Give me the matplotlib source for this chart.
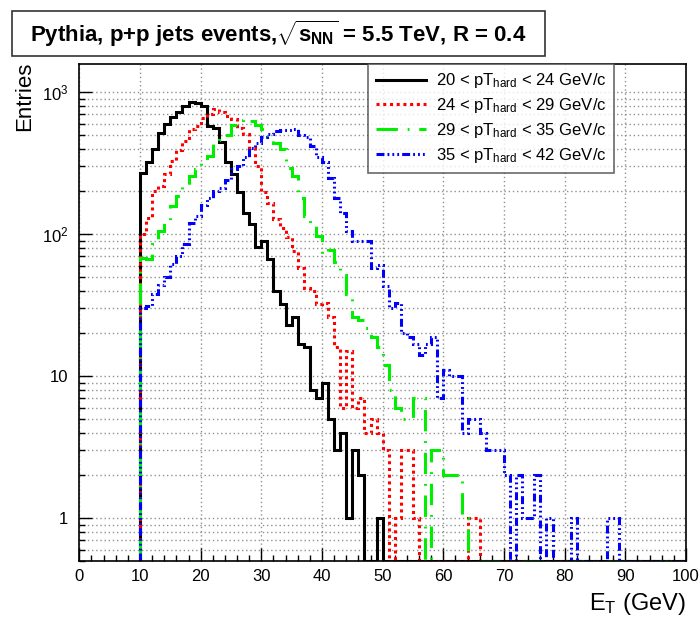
import numpy as np
import matplotlib
matplotlib.use("Agg")
import matplotlib.pyplot as plt
from matplotlib.lines import Line2D
from matplotlib.patches import Rectangle
from matplotlib.ticker import FixedLocator, FixedFormatter, MultipleLocator, LogLocator, NullFormatter

plt.rcParams['font.family'] = ['Liberation Sans', 'DejaVu Sans']
plt.rcParams['mathtext.fontset'] = 'custom'
plt.rcParams['mathtext.rm'] = 'Liberation Sans'
plt.rcParams['mathtext.it'] = 'Liberation Sans:italic'
plt.rcParams['mathtext.bf'] = 'Liberation Sans:bold'

# ---- data: entries per 1 GeV bin, E_T from 10 to 100 GeV ----
bin_edges = np.arange(10, 101, 1)

black_20_24 = [269, 320, 398, 512, 602, 665, 720, 801, 860, 835,
               805, 580, 564, 443, 320, 267, 197, 142, 118, 81,
               90, 67, 40, 32, 23, 26, 17, 16, 8, 7,
               9, 5, 3, 4, 1, 3, 2, 0, 0, 1] + [0] * 50

red_24_29 = [100, 131, 202, 219, 265, 328, 391, 454, 549, 580,
             662, 700, 760, 720, 681, 646, 564, 506, 407, 303,
             197, 167, 128, 111, 95, 76, 58, 42, 40, 32,
             33, 26, 16, 6, 15, 6, 7, 4, 5, 4,
             3, 0, 1, 3, 3, 1, 0, 0, 0, 0,
             0, 0, 0, 0, 1, 1] + [0] * 34

green_29_35 = [68, 67, 85, 105, 121, 157, 186, 220, 257, 290,
               320, 356, 430, 460, 500, 590, 640, 650, 630, 590,
               555, 480, 440, 400, 295, 257, 180, 134, 115, 97,
               72, 78, 64, 52, 38, 26, 25, 22, 19, 16,
               12, 8, 6, 5, 5, 7, 7, 0, 3, 3,
               2, 2, 2, 1] + [0] * 36

blue_35_42 = [30, 31, 38, 44, 50, 62, 70, 85, 120, 135,
              160, 180, 202, 210, 240, 287, 300, 347, 407, 440,
              480, 506, 534, 540, 545, 550, 500, 480, 420, 350,
              320, 250, 180, 140, 105, 90, 90, 90, 58, 61,
              43, 30, 33, 20, 19, 17, 14, 17, 19, 7,
              11, 10, 10, 4, 5, 5, 4, 3, 3, 3,
              2, 0, 2, 1, 1, 2, 0, 1, 0, 0,
              0, 1, 0, 0, 0, 0, 0, 1, 1, 0,
              0, 0, 0, 0, 0, 0, 0, 0, 0, 0]

labels = [r"20 < pT$_{\rm hard}$ < 24 GeV/c",
          r"24 < pT$_{\rm hard}$ < 29 GeV/c",
          r"29 < pT$_{\rm hard}$ < 35 GeV/c",
          r"35 < pT$_{\rm hard}$ < 42 GeV/c"]

series = [black_20_24, red_24_29, green_29_35, blue_35_42]
colors = ['#000000', '#ff0000', '#00ee00', '#0000ff']
lw = 2.2
styles = ['-',
          (0, (1.0, 1.2)),
          (0, (7.0, 3.2, 0.6, 3.2)),
          (0, (2.6, 1.0, 0.6, 1.0, 0.6, 1.0, 0.6, 1.0))]

ymin, ymax = 0.5, 1580
xmin, xmax = 0, 100

W, H = 699, 619
fig = plt.figure(figsize=(W / 100, H / 100), dpi=100)
ax = fig.add_axes([79.3 / W, 1 - 561 / H, (686 - 79.3) / W, (561 - 64) / H])
ax.set_yscale('log')
ax.set_xlim(xmin, xmax)
ax.set_ylim(ymin, ymax)

# grid
ax.grid(which='major', axis='x', color='#909090', ls=(0, (1, 2)), lw=1)
ax.grid(which='both', axis='y', color='#909090', ls=(0, (1, 2)), lw=1)
ax.set_axisbelow(True)

for vals, c, ls in zip(series, colors, styles):
    v = np.clip(np.asarray(vals, dtype=float), ymin, None)
    ax.stairs(v, bin_edges, baseline=ymin, color=c, lw=lw, linestyle=ls)

# ticks
ax.xaxis.set_major_locator(MultipleLocator(10))
ax.xaxis.set_minor_locator(MultipleLocator(2))
ax.yaxis.set_major_locator(FixedLocator([1, 10, 100, 1000]))
ax.yaxis.set_major_formatter(FixedFormatter(['1', '10', r'$10^{2}$', r'$10^{3}$']))
ax.yaxis.set_minor_locator(LogLocator(base=10, subs=np.arange(2, 10)))
ax.yaxis.set_minor_formatter(NullFormatter())
ax.tick_params(which='major', direction='in', length=9.4, width=1, labelsize=12,
               top=False, right=False)
ax.tick_params(which='minor', direction='in', length=4.5, width=1, top=False, right=False)
ax.tick_params(axis='y', which='major', pad=8)
ax.tick_params(axis='x', which='major', pad=6)
for s in ax.spines.values():
    s.set_linewidth(1.2)

# axis titles
fig.text(25 / W, 1 - 62 / H, 'Entries', rotation=90, ha='center', va='top', fontsize=16)
fig.text(686 / W, 1 - 604 / H, r'E$_{\rm T}$ (GeV)', ha='right', va='center', fontsize=17)

# title box
fig.patches.append(Rectangle((12 / W, 1 - 56 / H), (545 - 12) / W, (56 - 11) / H,
                             transform=fig.transFigure, fc='white', ec='#333333', lw=1.2))
fig.text(278 / W, 1 - 34 / H,
         r"Pythia, p+p jets events,$\sqrt{\mathbf{s}_{\mathbf{NN}}}$ = 5.5 TeV, R = 0.4",
         ha='center', va='center', fontsize=16, fontweight='bold')

# legend
handles = [Line2D([], [], color=c, lw=lw, linestyle=ls) for c, ls in zip(colors, styles)]
leg = fig.legend(handles, labels, loc='upper left', bbox_to_anchor=(368 / W, 1 - 64 / H),
                 frameon=True, fancybox=False, fontsize=12, handlelength=3.0,
                 handletextpad=0.6, borderpad=0.45, labelspacing=0.35, borderaxespad=0)
leg.get_frame().set_edgecolor('#444444')
leg.get_frame().set_linewidth(1.2)

fig.savefig('out.png', dpi=100)
